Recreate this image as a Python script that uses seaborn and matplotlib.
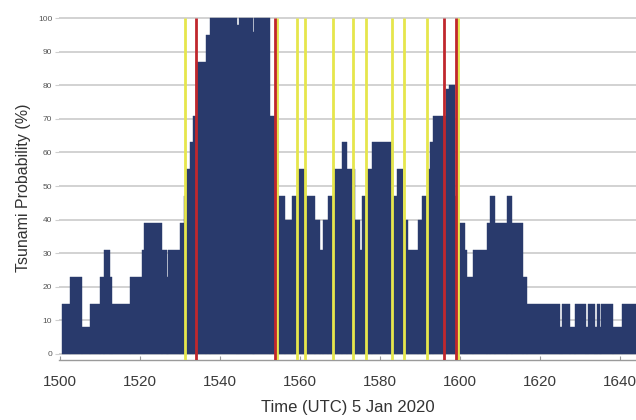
import matplotlib
matplotlib.use("Agg")
import matplotlib.pyplot as plt
import numpy as np
import seaborn as sns

# step start times (minutes as HHMM-like numbers) and probability values
step_start = [1500.5, 1502.5, 1505.4, 1507.5, 1510, 1511, 1512.5, 1513, 1517.5, 1520.5,
              1521, 1525.5, 1526.7, 1527, 1530, 1531, 1531.5, 1532.5, 1533.2, 1534,
              1536.5, 1537.5, 1544.3, 1544.7, 1548.2, 1548.6, 1552.5, 1554.5, 1556.3, 1558,
              1559.4, 1561.5, 1563.7, 1565, 1565.8, 1567, 1568.5, 1570.5, 1571.8, 1573.7,
              1575, 1575.5, 1576.7, 1578, 1583.2, 1584.2, 1585.7, 1587, 1589.5, 1590.5,
              1592, 1592.5, 1593.2, 1596.5, 1597.3, 1598.8, 1599.5, 1601.2, 1601.8, 1603.2,
              1606.8, 1607.5, 1608.8, 1611.8, 1613, 1615.8, 1616.8, 1625.1, 1625.6, 1627.5,
              1628.7, 1631.6, 1632, 1633.7, 1634.2, 1635, 1635.3, 1638.2, 1640.5]
step_value = [15, 23, 8, 15, 23, 31, 23, 15, 23, 31,
              39, 31, 23, 31, 39, 47, 55, 63, 71, 87,
              95, 100, 98, 100, 96, 100, 71, 47, 40, 47,
              55, 47, 40, 31, 40, 47, 55, 63, 55, 40,
              31, 47, 55, 63, 47, 55, 40, 31, 40, 47,
              55, 63, 71, 79, 80, 47, 39, 31, 23, 31,
              39, 47, 39, 47, 39, 23, 15, 8, 15, 8,
              15, 8, 15, 8, 15, 8, 15, 8, 15]
step_end = 1644.5

yellow_times = [1531.25, 1554.25, 1559.25, 1561.25, 1568.25, 1573.25, 1576.5,
                1583.0, 1586.0, 1591.75, 1599.5]
red_times = [1534.0, 1553.75, 1596.0, 1599.0]

navy = "#293a6c"

plt.rcParams["font.family"] = ["Liberation Sans", "DejaVu Sans"]

fig = plt.figure(figsize=(6.36, 4.2), dpi=100)
ax = fig.add_axes([0.093, 0.143, 0.907, 0.821])

edges = step_start + [step_end]
sns.histplot(x=step_start, weights=step_value, bins=edges, element="bars",
             fill=True, color=navy, alpha=1, edgecolor=navy, linewidth=0.3, ax=ax)

ax.vlines(yellow_times, -1.8, 100, colors="#e6e64c", linewidth=2.0, zorder=3)
ax.vlines(red_times, -1.8, 100, colors="#c0272d", linewidth=2.0, zorder=3)

ax.set_xlim(1499.75, 1644)
ax.set_ylim(-1.8, 100.9)
ax.set_yticks(np.arange(0, 101, 10))
ax.set_xticks(np.arange(1500, 1641, 20))
ax.yaxis.grid(True, color="#cfcfcf", linewidth=1.3)
ax.xaxis.grid(False)
ax.set_axisbelow(True)

for side in ["top", "right", "left"]:
    ax.spines[side].set_visible(False)
ax.spines["bottom"].set_color("#9a9a9a")
ax.spines["bottom"].set_linewidth(1.0)

ax.tick_params(axis="x", direction="in", length=3, color="#9a9a9a",
               labelsize=11, labelcolor="#3a3a3a", pad=11)
ax.tick_params(axis="y", length=3, color="#cfcfcf", labelsize=6,
               labelcolor="#555555", pad=2)

ax.set_xlabel("Time (UTC) 5 Jan 2020", fontsize=12, color="#333333", labelpad=8)
ax.set_ylabel("Tsunami Probability (%)", fontsize=11.5, color="#333333", labelpad=5)

fig.savefig("out.png", dpi=100, facecolor="white")
